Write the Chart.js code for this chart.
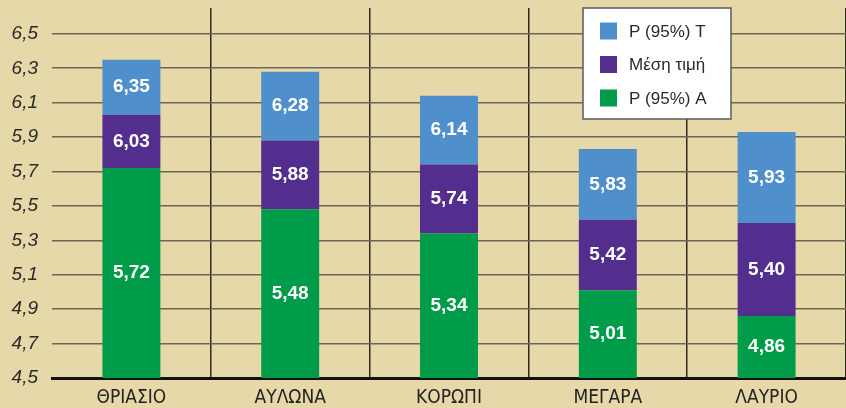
<!DOCTYPE html>
<html>
<head>
<meta charset="utf-8">
<script src="https://cdn.jsdelivr.net/npm/chart.js@4"></script>
<style>
  body { margin: 0; background: #e6d8a8; }
  #wrap { width: 846px; height: 408px; }
</style>
</head>
<body>
<div id="wrap"><canvas id="grafico"></canvas></div>
<script>
const perioxes = ["ΘΡΙΑΣΙΟ", "ΑΥΛΩΝΑ", "ΚΟΡΩΠΙ", "ΜΕΓΑΡΑ", "ΛΑΥΡΙΟ"]
const p95A = [5.72, 5.48, 5.34, 5.01, 4.86]
const mesiTimi = [6.03, 5.88, 5.74, 5.42, 5.40]
const p95T = [6.35, 6.28, 6.14, 5.83, 5.93]
const yTicks = [4.5, 4.7, 4.9, 5.1, 5.3, 5.5, 5.7, 5.9, 6.1, 6.3, 6.5]
const yMin = 4.5

const xromata = {
    A: "#009c4a",
    mesi: "#532e8e",
    T: "#4f90cc"
}

const comma = (v, d) => v.toFixed(d).replace(".", ",")

// floating bars: each segment from the previous value to its own
const prepararDados = () => {
    const green = p95A.map(v => [yMin, v])
    const purple = mesiTimi.map((v, i) => [p95A[i], v])
    const blue = p95T.map((v, i) => [mesiTimi[i], v])
    const common = { grouped: false, barPercentage: 0.73, categoryPercentage: 0.5, borderWidth: 0 }
    return {
        labels: perioxes,
        datasets: [
            { label: "P (95%) A", data: green, backgroundColor: xromata.A, ...common },
            { label: "Μέση τιμή", data: purple, backgroundColor: xromata.mesi, ...common },
            { label: "P (95%) T", data: blue, backgroundColor: xromata.T, ...common }
        ]
    }
}

const etiketes = {
    id: "etiketes",
    afterDatasetsDraw(chart) {
        const ctx = chart.ctx
        ctx.save()
        ctx.fillStyle = "#ffffff"
        ctx.font = "bold 19px 'Liberation Sans', sans-serif"
        ctx.textAlign = "center"
        ctx.textBaseline = "middle"
        chart.data.datasets.forEach((ds, i) => {
            chart.getDatasetMeta(i).data.forEach((bar, j) => {
                const cy = (bar.y + bar.base) / 2
                ctx.fillText(comma(ds.data[j][1], 2), bar.x, cy)
            })
        })
        ctx.restore()
    }
}

const ypomnima = {
    id: "ypomnima",
    afterDraw(chart) {
        const ctx = chart.ctx
        const x = 583, y = 8, w = 148, h = 111
        ctx.save()
        ctx.fillStyle = "#ffffff"
        ctx.fillRect(x, y, w, h)
        ctx.strokeStyle = "#5a5a5a"
        ctx.lineWidth = 1.5
        ctx.strokeRect(x, y, w, h)
        ctx.font = "17px 'Liberation Sans', sans-serif"
        ctx.textBaseline = "middle"
        ctx.textAlign = "left"
        const ds = chart.data.datasets.slice().reverse()
        ds.forEach((d, i) => {
            const cy = 31 + i * 33.5
            ctx.fillStyle = d.backgroundColor
            ctx.fillRect(600, cy - 8.5, 17, 17)
            ctx.fillStyle = "#2a2a2a"
            ctx.fillText(d.label, 629, cy + 1)
        })
        ctx.restore()
    }
}

const criarGrafico = () => {
    const ctx = document.querySelector("#grafico")
    new Chart(ctx, {
        type: "bar",
        data: prepararDados(),
        plugins: [etiketes, ypomnima],
        options: {
            responsive: true,
            maintainAspectRatio: false,
            animation: false,
            layout: { padding: { top: 8, left: 0, right: 0, bottom: 0 } },
            plugins: {
                legend: { display: false },
                tooltip: { enabled: false }
            },
            scales: {
                x: {
                    grid: {
                        offset: true,
                        drawTicks: false,
                        color: c => c.index === 0 ? "transparent" : "#2e2a22",
                        lineWidth: 1.5
                    },
                    border: { display: true, color: "#111111", width: 3 },
                    ticks: {
                        color: "#222222",
                        padding: 9,
                        font: { family: "'Liberation Sans Narrow', 'DejaVu Sans Condensed', sans-serif", size: 19 }
                    },
                    afterFit: s => { s.height = 30; s.paddingLeft = 0; s.paddingRight = 0 }
                },
                y: {
                    min: yMin,
                    max: 6.65,
                    afterBuildTicks: s => { s.ticks = yTicks.map(v => ({ value: v })) },
                    grid: { color: "#6e6652", lineWidth: 1.5, drawTicks: false },
                    border: { display: false },
                    ticks: {
                        color: "#2a2a2a",
                        padding: 14,
                        font: { family: "'Liberation Sans', sans-serif", size: 19, style: "italic" },
                        callback: v => comma(v, 1)
                    },
                    afterFit: s => { s.width = 52; s.paddingTop = 0; s.paddingBottom = 0 }
                }
            }
        }
    })
}

criarGrafico()
</script>
</body>
</html>
